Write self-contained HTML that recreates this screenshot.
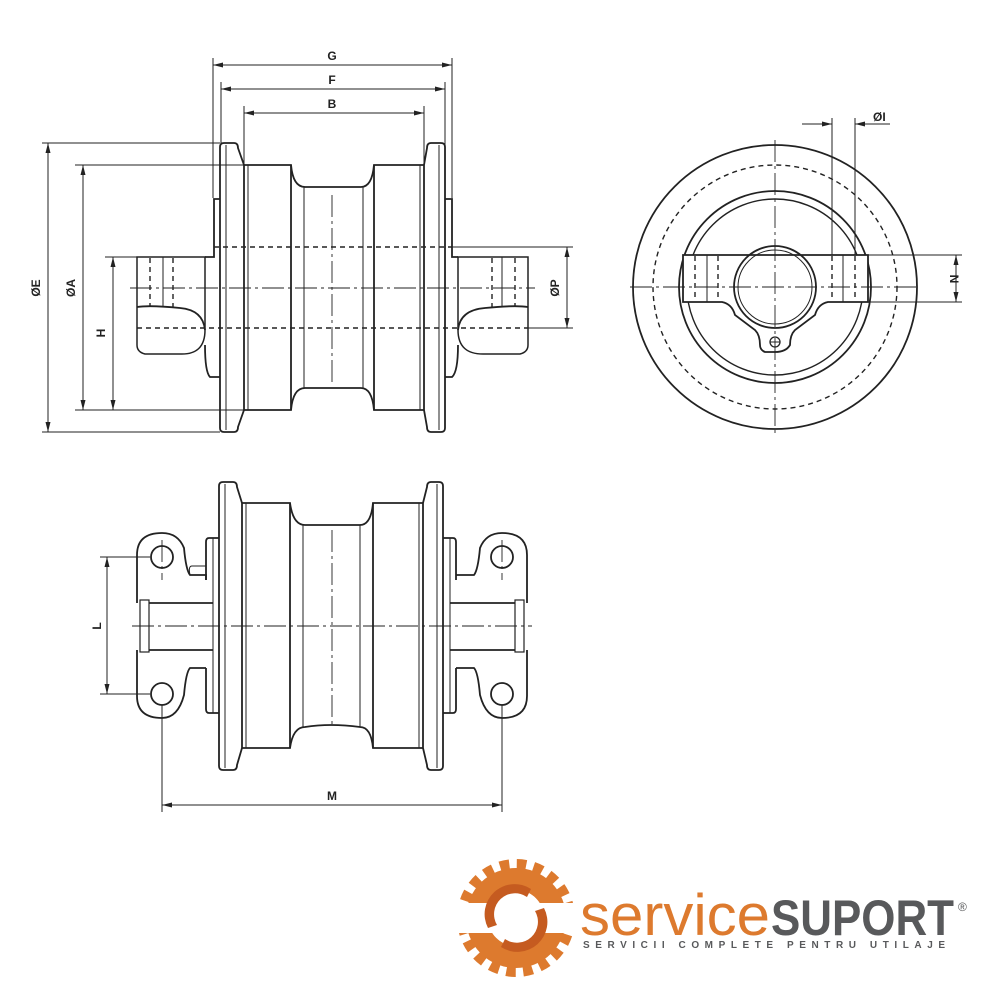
<!DOCTYPE html>
<html><head><style>
html,body{margin:0;padding:0;background:#fff;}
svg{display:block;}
text{font-family:"Liberation Sans",sans-serif;}
</style></head><body>
<svg width="1000" height="1000" viewBox="0 0 1000 1000" xmlns="http://www.w3.org/2000/svg">
<defs>
<marker id="a" viewBox="0 0 10 6" refX="10" refY="3" markerWidth="10" markerHeight="6" orient="auto-start-reverse" markerUnits="userSpaceOnUse"><path d="M0,0.5 L10,3 L0,5.5 z" fill="#222"/></marker>
</defs>
<g fill="none" stroke="#222" stroke-width="1.8">
<path d="M220,147 Q220,143 224,143 L234,143 Q238,143 238,148 L244,165 L244,410 L238,427 Q238,432 234,432 L224,432 Q220,432 220,428 Z"/>
<line x1="226" y1="145" x2="226" y2="430" stroke-width="1"/>
<path d="M445,147 Q445,143 441,143 L431,143 Q427,143 427,148 L424,165 L424,410 L427,427 Q427,432 431,432 L441,432 Q445,432 445,428 Z"/>
<line x1="439" y1="145" x2="439" y2="430" stroke-width="1"/>
<path d="M244,165 L291,165 Q293,187 305,187 L361,187 Q372,187 374,165 L424,165"/>
<path d="M244,410 L291,410 Q293,388 305,388 L361,388 Q372,388 374,410 L424,410"/>
<line x1="291" y1="165" x2="291" y2="410"/>
<line x1="374" y1="165" x2="374" y2="410"/>
<line x1="304" y1="187" x2="304" y2="388" stroke-width="1"/>
<line x1="363" y1="187" x2="363" y2="388" stroke-width="1"/>
<line x1="248" y1="165" x2="248" y2="410" stroke-width="1"/>
<line x1="420" y1="165" x2="420" y2="410" stroke-width="1"/>
<path d="M220,199 L214,199 L214,257 L205,257 M205,345 Q205,372 210,377 L220,377"/>
<path d="M445,199 L452,199 L452,257 L458,257 M458,345 Q458,372 452,377 L445,377"/>
<path d="M205,257 L137,257 L137,345 Q137,352 145,354 L180,354 Q205,355 205,330 Z" stroke-width="1.5"/>
<path d="M137,307 Q150,305 180,308 Q203,310 205,330"/>
<path d="M458,257 L528,257 L528,345 Q528,352 520,354 L485,354 Q458,355 458,330 Z" stroke-width="1.5"/>
<path d="M528,307 Q515,305 485,308 Q460,310 458,330"/>
<line x1="163" y1="257" x2="163" y2="307" stroke-width="1"/>
<line x1="502" y1="257" x2="502" y2="307" stroke-width="1"/>
</g>
<g fill="none" stroke="#222" stroke-width="1.4" stroke-dasharray="5,4">
<line x1="214" y1="247" x2="452" y2="247"/>
<line x1="137" y1="328" x2="528" y2="328"/>
<line x1="150" y1="258" x2="150" y2="307"/>
<line x1="173" y1="258" x2="173" y2="307"/>
<line x1="492" y1="258" x2="492" y2="307"/>
<line x1="515" y1="258" x2="515" y2="307"/>
</g>
<g fill="none" stroke="#222" stroke-width="0.9" stroke-dasharray="22,4,3,4">
<line x1="130" y1="288" x2="535" y2="288"/>
<line x1="332" y1="195" x2="332" y2="385"/>
</g>
<g fill="none" stroke="#222" stroke-width="1">
<line x1="213" y1="58" x2="213" y2="198"/>
<line x1="452" y1="58" x2="452" y2="198"/>
<line x1="221" y1="82" x2="221" y2="145"/>
<line x1="445" y1="82" x2="445" y2="145"/>
<line x1="244" y1="106" x2="244" y2="165"/>
<line x1="424" y1="106" x2="424" y2="165"/>
<line x1="213" y1="65" x2="452" y2="65" marker-start="url(#a)" marker-end="url(#a)"/>
<line x1="221" y1="89" x2="445" y2="89" marker-start="url(#a)" marker-end="url(#a)"/>
<line x1="244" y1="113" x2="424" y2="113" marker-start="url(#a)" marker-end="url(#a)"/>
<line x1="42" y1="143" x2="220" y2="143"/>
<line x1="42" y1="432" x2="220" y2="432"/>
<line x1="75" y1="165" x2="244" y2="165"/>
<line x1="75" y1="410" x2="244" y2="410"/>
<line x1="105" y1="257" x2="137" y2="257"/>
<line x1="48" y1="143" x2="48" y2="432" marker-start="url(#a)" marker-end="url(#a)"/>
<line x1="83" y1="165" x2="83" y2="410" marker-start="url(#a)" marker-end="url(#a)"/>
<line x1="113" y1="257" x2="113" y2="410" marker-start="url(#a)" marker-end="url(#a)"/>
<line x1="452" y1="247" x2="573" y2="247"/>
<line x1="528" y1="328" x2="573" y2="328"/>
<line x1="567" y1="247" x2="567" y2="328" marker-start="url(#a)" marker-end="url(#a)"/>
</g>
<g fill="#222" font-size="12" font-weight="bold" text-anchor="middle">
<text x="332" y="60">G</text>
<text x="332" y="84">F</text>
<text x="332" y="108">B</text>
<text transform="translate(40,288) rotate(-90)">ØE</text>
<text transform="translate(75,288) rotate(-90)">ØA</text>
<text transform="translate(105,333) rotate(-90)">H</text>
<text transform="translate(559,288) rotate(-90)">ØP</text>
</g>

<g fill="none" stroke="#222" stroke-width="1.8">
<circle cx="775" cy="287" r="142"/>
<circle cx="775" cy="287" r="96"/>
<circle cx="775" cy="287" r="88" stroke-width="1.4"/>
<path d="M683,255 L868,255 L868,302 L828,302 Q818,304 815,315 L795,330 Q790,335 790,345 Q786,352 775,352 L765,352 Q760,350 760,345 Q760,335 755,330 L735,315 Q732,304 722,302 L683,302 Z" fill="#fff"/>
<circle cx="775" cy="287" r="41"/>
<circle cx="775" cy="287" r="37" stroke-width="1"/>
<circle cx="775" cy="342" r="5" stroke-width="1.3"/>
<line x1="770" y1="342" x2="780" y2="342" stroke-width="1"/>
<line x1="707" y1="255" x2="707" y2="302" stroke-width="1"/>
<line x1="843" y1="255" x2="843" y2="302" stroke-width="1"/>
</g>
<g fill="none" stroke="#222" stroke-width="1.4" stroke-dasharray="5,4">
<circle cx="775" cy="287" r="122"/>
<line x1="695" y1="256" x2="695" y2="301"/>
<line x1="718" y1="256" x2="718" y2="301"/>
<line x1="832" y1="256" x2="832" y2="301"/>
<line x1="855" y1="256" x2="855" y2="301"/>
</g>
<g fill="none" stroke="#222" stroke-width="0.9" stroke-dasharray="22,4,3,4">
<line x1="630" y1="287" x2="920" y2="287"/>
<line x1="775" y1="140" x2="775" y2="435"/>
</g>
<g fill="none" stroke="#222" stroke-width="1">
<line x1="832" y1="118" x2="832" y2="255"/>
<line x1="855" y1="118" x2="855" y2="255"/>
<line x1="802" y1="124" x2="832" y2="124" marker-end="url(#a)"/>
<line x1="890" y1="124" x2="855" y2="124" marker-end="url(#a)"/>
<line x1="868" y1="255" x2="962" y2="255"/>
<line x1="868" y1="302" x2="962" y2="302"/>
<line x1="956" y1="255" x2="956" y2="302" marker-start="url(#a)" marker-end="url(#a)"/>
</g>
<g fill="#222" font-size="12" font-weight="bold">
<text x="873" y="121">ØI</text>
<text transform="translate(950,279) rotate(90)" text-anchor="middle">N</text>
</g>

<g fill="none" stroke="#222" stroke-width="1.8">
<path d="M219,486 Q219,482 223,482 L233,482 Q237,482 237,487 L242,503 L242,748 L237,765 Q237,770 233,770 L223,770 Q219,770 219,766 Z"/>
<line x1="225" y1="484" x2="225" y2="768" stroke-width="1"/>
<path d="M443,486 Q443,482 439,482 L431,482 Q427,482 427,487 L423,503 L423,748 L427,765 Q427,770 431,770 L439,770 Q443,770 443,766 Z"/>
<line x1="437" y1="484" x2="437" y2="768" stroke-width="1"/>
<path d="M242,503 L290,503 Q293,525 305,525 L360,525 Q371,525 373,503 L423,503"/>
<path d="M242,748 L290,748 Q293,727 305,727 Q330,723 360,727 Q371,727 373,748 L423,748"/>
<line x1="290" y1="503" x2="290" y2="748"/>
<line x1="373" y1="503" x2="373" y2="748"/>
<line x1="303" y1="525" x2="303" y2="727" stroke-width="1"/>
<line x1="360" y1="525" x2="360" y2="727" stroke-width="1"/>
<line x1="246" y1="503" x2="246" y2="748" stroke-width="1"/>
<line x1="419" y1="503" x2="419" y2="748" stroke-width="1"/>
<path d="M219,538 L209,538 Q206,538 206,542 L206,580 M206,668 L206,709 Q206,713 209,713 L219,713"/>
<path d="M443,538 L453,538 Q456,538 456,542 L456,580 M456,668 L456,709 Q456,713 453,713 L443,713"/>
<line x1="213" y1="538" x2="213" y2="713" stroke-width="1"/>
<line x1="450" y1="538" x2="450" y2="713" stroke-width="1"/>
<path d="M137,603 L137,555 Q137,533 162,533 Q178,533 184,548 Q186,570 190,575 L206,575 L206,580 M206,668 L190,668 Q186,672 184,695 Q178,718 162,718 Q137,718 137,696 L137,650"/>
<path d="M190,575 Q188,566 192,566 L206,566" stroke-width="1"/>
<rect x="140" y="600" width="9" height="52" stroke-width="1.2"/>
<path d="M149,603 L213,603 M149,650 L213,650"/>
<circle cx="162" cy="557" r="11"/>
<circle cx="162" cy="694" r="11"/>
<path d="M527,603 L527,555 Q527,533 502,533 Q486,533 480,548 Q478,570 474,575 L456,575 M456,668 L474,668 Q478,672 480,695 Q486,718 502,718 Q527,718 527,696 L527,650"/>
<rect x="515" y="600" width="9" height="52" stroke-width="1.2"/>
<path d="M450,603 L515,603 M450,650 L515,650"/>
<circle cx="502" cy="557" r="11"/>
<circle cx="502" cy="694" r="11"/>
</g>
<g fill="none" stroke="#222" stroke-width="0.9" stroke-dasharray="22,4,3,4">
<line x1="132" y1="626" x2="532" y2="626"/>
<line x1="332" y1="530" x2="332" y2="725"/>
<line x1="162" y1="540" x2="162" y2="580"/>
<line x1="502" y1="540" x2="502" y2="580"/>
</g>
<g fill="none" stroke="#222" stroke-width="1">
<line x1="100" y1="557" x2="150" y2="557"/>
<line x1="100" y1="694" x2="150" y2="694"/>
<line x1="107" y1="557" x2="107" y2="694" marker-start="url(#a)" marker-end="url(#a)"/>
<line x1="162" y1="705" x2="162" y2="812"/>
<line x1="502" y1="705" x2="502" y2="812"/>
<line x1="162" y1="805" x2="502" y2="805" marker-start="url(#a)" marker-end="url(#a)"/>
</g>
<g fill="#222" font-size="12" font-weight="bold" text-anchor="middle">
<text transform="translate(101,626) rotate(-90)">L</text>
<text x="332" y="800">M</text>
</g>

<g>
<circle cx="516" cy="918" r="54" fill="none" stroke="#dd7a2e" stroke-width="10" stroke-dasharray="9.5,7.5"/>
<circle cx="516" cy="918" r="39" fill="none" stroke="#dd7a2e" stroke-width="22"/>
<rect x="455" y="903" width="40" height="30" fill="#fff"/>
<rect x="537" y="903" width="40" height="30" fill="#fff"/>
<circle cx="516" cy="918" r="28" fill="#fff"/>
<path d="M531,889 A30,30 0 0 0 488,928 L497,925 A21,21 0 0 1 527,897 Z" fill="#c55b20"/>
<path d="M501,947 A30,30 0 0 0 544,908 L535,911 A21,21 0 0 1 505,939 Z" fill="#c55b20"/>
</g>
<text x="580" y="935" font-size="58" fill="#dd7a2e" textLength="190" lengthAdjust="spacingAndGlyphs">service</text>
<text x="771" y="935" font-size="50" font-weight="bold" fill="#58595b" textLength="183" lengthAdjust="spacingAndGlyphs">SUPORT</text>
<text x="958" y="911" font-size="12" fill="#58595b">®</text>
<text x="583" y="948" font-size="10" font-weight="bold" fill="#58595b" textLength="362" lengthAdjust="spacing">SERVICII COMPLETE PENTRU UTILAJE</text>
</svg>
</body></html>
